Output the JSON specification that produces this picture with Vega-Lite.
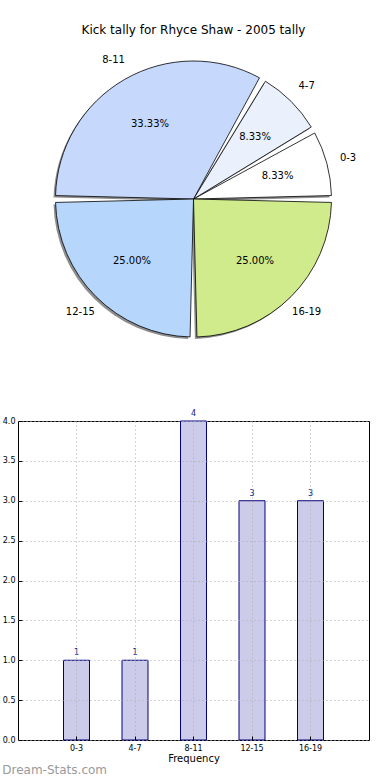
{
  "$schema": "https://vega.github.io/schema/vega-lite/v6.json",
  "padding": {"left": 1, "top": 24, "right": 0, "bottom": 0},
  "spacing": 62,
  "background": "white",
  "config": {"view": {"stroke": null}, "font": "DejaVu Sans"},
  "datasets": {
    "kicks": [
      {"range": "0-3", "idx": 0, "count": 1, "pct": "8.33%"},
      {"range": "4-7", "idx": 1, "count": 1, "pct": "8.33%"},
      {"range": "8-11", "idx": 2, "count": 4, "pct": "33.33%"},
      {"range": "12-15", "idx": 3, "count": 3, "pct": "25.00%"},
      {"range": "16-19", "idx": 4, "count": 3, "pct": "25.00%"}
    ]
  },
  "vconcat": [
    {
      "width": 351,
      "height": 296,
      "title": {"text": "Kick tally for Rhyce Shaw - 2005 tally", "fontSize": 12, "fontWeight": "normal", "color": "#000000", "offset": 14, "font": "DejaVu Sans"},
      "data": {"name": "kicks"},
      "encoding": {
        "theta": {"field": "count", "type": "quantitative", "stack": true, "scale": {"range": [1.5708, 7.854]}},
        "order": {"field": "idx", "type": "quantitative", "sort": "descending"},
        "detail": {"field": "range", "type": "nominal"}
      },
      "layer": [
        {"mark": {"type": "arc", "outerRadius": 138, "padAngle": 0.05, "xOffset": -2, "yOffset": 2, "fill": "#8e8e8e"}},
        {
          "mark": {"type": "arc", "outerRadius": 138, "padAngle": 0.05, "stroke": "#000000", "strokeWidth": 0.8},
          "encoding": {
            "color": {"field": "range", "type": "nominal", "legend": null,
              "scale": {"domain": ["0-3", "4-7", "8-11", "12-15", "16-19"], "range": ["#ffffff", "#eaf1fd", "#c6d9fd", "#b7d6fc", "#cfeb8c"]}}
          }
        },
        {"mark": {"type": "text", "radius": 87, "fontSize": 10, "color": "#000000"}, "encoding": {"text": {"field": "pct", "type": "nominal"}}},
        {"mark": {"type": "text", "radius": 160, "fontSize": 10, "color": "#000000"}, "encoding": {"text": {"field": "range", "type": "nominal"}}}
      ]
    },
    {
      "width": 351,
      "height": 319,
      "view": {"stroke": "#000000", "strokeWidth": 1},
      "title": {"text": "Dream-Stats.com", "orient": "bottom", "anchor": "start", "frame": "bounds", "fontSize": 12, "fontWeight": "normal", "color": "#9a9a9a", "offset": 2},
      "data": {"name": "kicks"},
      "encoding": {
        "x": {"field": "range", "type": "nominal", "sort": ["0-3", "4-7", "8-11", "12-15", "16-19"],
          "scale": {"paddingInner": 0.556, "paddingOuter": 0.778},
          "title": "Frequency",
          "axis": {"labelAngle": 0, "labelFontSize": 8, "labelColor": "#000000", "titleFontSize": 10, "titleFontWeight": "normal", "titleColor": "#000000", "titlePadding": 1, "domain": false, "ticks": true, "tickSize": -4, "tickColor": "#000000", "labelPadding": 8, "grid": true, "gridDash": [1, 3], "gridColor": "#aaaaaa", "bandPosition": 0.5, "zindex": 1}},
        "y": {"field": "count", "type": "quantitative", "scale": {"domain": [0, 4], "nice": false}, "title": null,
          "axis": {"values": [0, 0.5, 1, 1.5, 2, 2.5, 3, 3.5, 4], "format": ".1f", "labelFontSize": 8, "labelColor": "#000000", "domain": false, "tickSize": -4, "tickColor": "#000000", "labelPadding": 7, "grid": true, "gridDash": [1, 3], "gridColor": "#aaaaaa", "zindex": 1}}
      },
      "layer": [
        {"mark": {"type": "bar", "fill": "#ccccea", "stroke": "#000080", "strokeWidth": 1}},
        {"mark": {"type": "text", "baseline": "bottom", "dy": -3, "fontSize": 8, "color": "#0a1e8c"}, "encoding": {"text": {"field": "count", "type": "quantitative"}}}
      ]
    }
  ]
}
